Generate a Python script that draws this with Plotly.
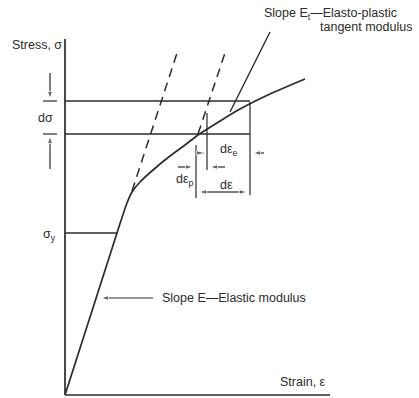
import plotly.graph_objects as go

# Stress-strain curve (arbitrary units, origin at the axes corner)
strain = [0, 52, 62, 67, 75, 88, 105, 120, 133, 155, 175, 205, 240]
stress = [0, 162, 192, 203, 213, 225, 239, 250, 260, 274, 286, 301, 316]

# dashed elastic lines and the tangent modulus line
elastic_ext_x = [67, 113]
elastic_ext_y = [204, 345]
unload_x = [133, 161]
unload_y = [261, 345]
tangent_x = [165, 205]
tangent_y = [283, 363]

# axis extents
strain_max = 265
stress_max = 356

# stress levels sigma and sigma + d sigma, yield stress
sigma_levels = [261, 294]
level_end = 185
sigma_y = 162
sigma_y_strain = 52

# vertical guides at the strain increments
guide_x = [131, 142, 185]
guide_lo = [197, 225, 200]
guide_hi = [250, 282, 293]

ink = "#2b2b2b"
font = dict(family="Liberation Sans, Arial, sans-serif", size=12.5, color=ink)

fig = go.Figure()

def seg(xs, ys, dash="solid", width=1.5):
    fig.add_trace(go.Scatter(x=xs, y=ys, mode="lines", showlegend=False,
                             line=dict(color=ink, width=width, dash=dash), hoverinfo="skip"))

# axes
seg([0, 0], [0, stress_max], width=1.7)
seg([0, strain_max], [0, 0], width=1.7)

# curve
fig.add_trace(go.Scatter(x=strain, y=stress, mode="lines", showlegend=False,
                         line=dict(color=ink, width=1.7, shape="spline", smoothing=0.8)))

seg(elastic_ext_x, elastic_ext_y, dash="9px,6px")
seg(unload_x, unload_y, dash="9px,6px")
seg(tangent_x, tangent_y, width=1.4)

for s in sigma_levels:
    seg([0, level_end], [s, s], width=1.3)
seg([0, sigma_y_strain], [sigma_y, sigma_y], width=1.3)

for gx, lo, hi in zip(guide_x, guide_lo, guide_hi):
    seg([gx, gx], [lo, hi], width=1.2)

# d sigma ticks at the left
for s in sigma_levels:
    seg([-22, -8], [s, s], width=1.2)

def arrow(x0, y0, x1, y1):
    # line from (x0, y0) with an arrow head at (x1, y1)
    fig.add_trace(go.Scatter(x=[x0, x1], y=[y0, y1], mode="lines+markers", showlegend=False,
                             hoverinfo="skip", line=dict(color=ink, width=1.2),
                             marker=dict(symbol="arrow", size=[0, 8], angleref="previous",
                                         color=ink)))

arrow(-15, 322, -15, sigma_levels[1] + 2)
arrow(-15, 226, -15, sigma_levels[0] - 2)
arrow(158, 203, guide_x[0] + 3, 203)
arrow(158, 203, guide_x[2] - 3, 203)
arrow(135, 242, guide_x[1] - 3, 242)
arrow(199, 242, guide_x[2] + 3, 242)
arrow(113, 228, guide_x[0] - 3, 228)
arrow(160, 228, guide_x[1] + 3, 228)
arrow(88, 97, 36, 97)

def label(x, y, text, anchor="center", size=12.5):
    fig.add_annotation(x=x, y=y, xref="x", yref="y", text=text, showarrow=False,
                       xanchor=anchor, font=dict(font, size=size))

label(-28, 350, "Stress, σ")
label(-20, 277, "dσ")
label(-16, 160, "σ<sub>y</sub>")
label(95, 97, "Slope E—Elastic modulus", anchor="left")
label(213, 13, "Strain, ε", anchor="left")
label(161, 210, "dε")
label(164, 245, "dε<sub>e</sub>")
label(120, 215, "dε<sub>p</sub>")
label(197, 381, "Slope E<sub>t</sub>—Elasto-plastic", anchor="left")
label(253, 368, "tangent modulus", anchor="left")

fig.update_layout(width=419, height=398, margin=dict(l=0, r=0, t=0, b=0),
                  plot_bgcolor="white", paper_bgcolor="white")
fig.update_xaxes(range=[-65, 354], visible=False)
fig.update_yaxes(range=[-3, 395], visible=False)

fig.write_html("out.html", config={"displayModeBar": False},
               post_script="document.body.style.margin = '0';")
